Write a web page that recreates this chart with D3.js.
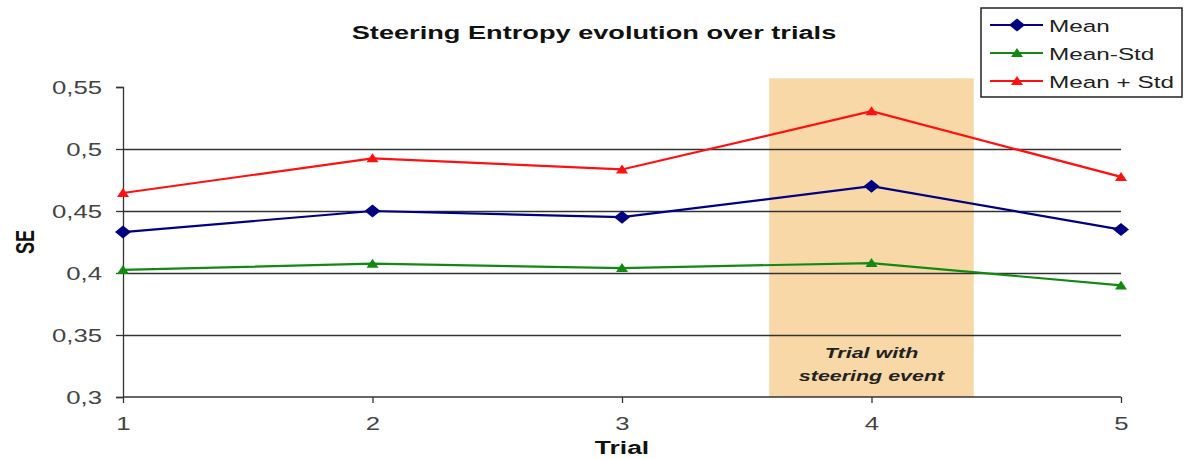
<!DOCTYPE html>
<html><head><meta charset="utf-8">
<script src="https://cdn.jsdelivr.net/npm/d3@7"></script>
<style>body{margin:0;background:#fff;} svg{display:block;font-family:Arial,"Liberation Sans",sans-serif;}</style>
</head><body>
<svg id="c" width="1184" height="459"></svg>
<script>
const trials = [1, 2, 3, 4, 5];
const meanVals = [0.433, 0.450, 0.445, 0.470, 0.435];
const minusVals = [0.4025, 0.4075, 0.404, 0.408, 0.390];
const plusVals = [0.4645, 0.4925, 0.4835, 0.5305, 0.4775];
const yTicks = [0.3, 0.35, 0.4, 0.45, 0.5, 0.55];
const yTickLabels = ["0,3", "0,35", "0,4", "0,45", "0,5", "0,55"];
const highlight = [3.59, 4.41];
const highlightTop = 0.557;

const SX = 1.43; // horizontal stretch of the original picture
const svg = d3.select("#c");
const x = d3.scaleLinear().domain([1, 5]).range([123, 1121]);
const y = d3.scaleLinear().domain([0.3, 0.55]).range([397, 87]);

function stretchText(sel, px, py, anchor, size, opts = {}) {
  return sel.append("text")
    .attr("transform", `translate(${px},${py}) scale(${SX},1)` + (opts.rotate ? ` rotate(${opts.rotate})` : ""))
    .attr("text-anchor", anchor).attr("font-size", size)
    .attr("font-weight", opts.weight || "normal").attr("font-style", opts.style || "normal")
    .attr("fill", opts.fill || "#222");
}

// highlight band
svg.append("rect")
  .attr("x", x(highlight[0])).attr("width", x(highlight[1]) - x(highlight[0]))
  .attr("y", y(highlightTop)).attr("height", y(0.3) - y(highlightTop))
  .attr("fill", "#f9d8a8");

// gridlines
svg.append("g").selectAll("line").data(yTicks.slice(1, 5)).join("line")
  .attr("x1", x(1)).attr("x2", x(5))
  .attr("y1", d => Math.round(y(d)) + 0.5).attr("y2", d => Math.round(y(d)) + 0.5)
  .attr("stroke", "#333").attr("stroke-width", 1.3);

// y axis
const yAxis = d3.axisLeft(y).tickValues(yTicks)
  .tickFormat((d, i) => yTickLabels[i]).tickSize(7).tickPadding(0);
const gy = svg.append("g").attr("transform", `translate(${x(1)},0)`).call(yAxis);
gy.select(".domain").attr("stroke", "#333").attr("stroke-width", 1.3);
gy.selectAll(".tick line").attr("stroke", "#333").attr("stroke-width", 1.3);
gy.selectAll(".tick text").attr("x", null).attr("dy", "0.36em")
  .attr("transform", `translate(-21,0) scale(${SX},1)`)
  .attr("font-size", 18).attr("fill", "#444")
  .attr("font-family", "Arial, 'Liberation Sans', sans-serif");

// x axis
const xAxis = d3.axisBottom(x).tickValues(trials).tickFormat(d3.format("d"))
  .tickSize(6).tickPadding(0);
const gx = svg.append("g").attr("transform", `translate(0,${y(0.3)})`).call(xAxis);
gx.select(".domain").attr("stroke", "#333").attr("stroke-width", 1.3).attr("d", `M${x(1)},0H${x(5)}`);
gx.selectAll(".tick line").attr("stroke", "#333").attr("stroke-width", 1.3);
gx.selectAll(".tick text").attr("y", null).attr("dy", null)
  .attr("transform", `translate(0,33) scale(${SX},1)`)
  .attr("font-size", 18).attr("fill", "#444")
  .attr("font-family", "Arial, 'Liberation Sans', sans-serif");

// band text
const bx = (x(highlight[0]) + x(highlight[1])) / 2;
stretchText(svg, bx, 358, "middle", 15, {weight: "bold", style: "italic"}).text("Trial with");
stretchText(svg, bx, 381, "middle", 15, {weight: "bold", style: "italic"}).text("steering event");

// series
const series = [
  {name: "Mean", vals: meanVals, color: "#000080", marker: "diamond"},
  {name: "Mean-Std", vals: minusVals, color: "#128a12", marker: "triangle"},
  {name: "Mean + Std", vals: plusVals, color: "#ff1010", marker: "triangle"}
];
const line = d3.line().x((d, i) => x(trials[i])).y(d => y(d));
function markerPath(type) {
  return type === "diamond" ? "M0,-6.5L8,0L0,6.5L-8,0Z" : "M0,-5L6,4L-6,4Z";
}
series.forEach(s => {
  svg.append("path").datum(s.vals).attr("d", line)
    .attr("fill", "none").attr("stroke", s.color).attr("stroke-width", 2.2);
  svg.append("g").selectAll("path").data(s.vals).join("path")
    .attr("transform", (d, i) => `translate(${x(trials[i])},${y(d)})`)
    .attr("d", markerPath(s.marker)).attr("fill", s.color);
});

// title
stretchText(svg, 594, 39, "middle", 19, {weight: "bold", fill: "#111"}).text("Steering Entropy evolution over trials");

// axis titles
stretchText(svg, 622, 454, "middle", 18.5, {weight: "bold", fill: "#111"}).text("Trial");
stretchText(svg, 34, 242, "middle", 18, {weight: "bold", fill: "#111", rotate: -90}).text("SE");

// legend
const lg = svg.append("g");
lg.append("rect").attr("x", 981).attr("y", 8).attr("width", 201).attr("height", 89)
  .attr("fill", "#fff").attr("stroke", "#222").attr("stroke-width", 1.5);
series.forEach((s, i) => {
  const ly = 25 + i * 28;
  lg.append("line").attr("x1", 990).attr("x2", 1043).attr("y1", ly).attr("y2", ly)
    .attr("stroke", s.color).attr("stroke-width", 2.2);
  lg.append("path").attr("transform", `translate(1017,${ly})`).attr("d", markerPath(s.marker)).attr("fill", s.color);
  stretchText(lg, 1049, ly + 6.5, "start", 17, {fill: "#222"}).text(s.name);
});
</script>
</body></html>
